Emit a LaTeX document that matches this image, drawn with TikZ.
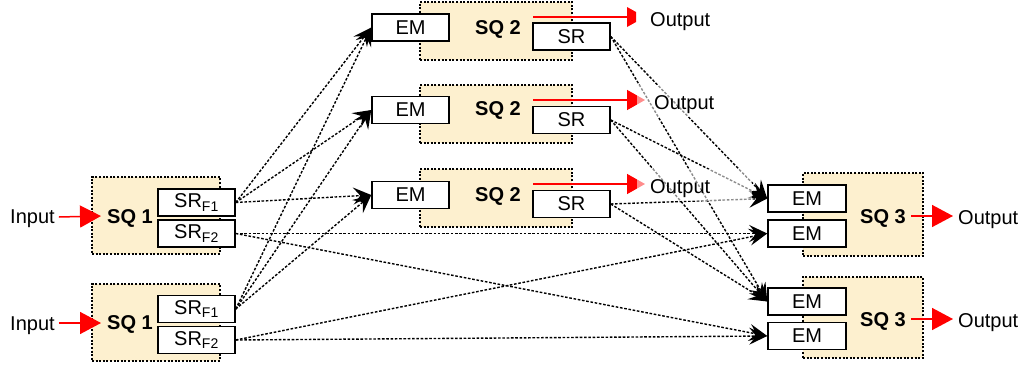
\documentclass[tikz,border=0pt]{standalone}
\usepackage{fontspec}
\setmainfont{Liberation Sans}
\usetikzlibrary{arrows.meta}
\definecolor{sqfill}{RGB}{253,240,207}
\begin{document}
\begin{tikzpicture}[x=1pt,y=-1pt,
  font=\fontsize{20}{23}\selectfont,
  sqbox/.style={draw, fill=sqfill, line width=1.3pt, dash pattern=on 2pt off 1.6pt, inner sep=0pt},
  unit/.style={draw, fill=white, line width=1.5pt, minimum width=77pt, minimum height=27pt, inner sep=0pt},
  sqlabel/.style={anchor=base west, inner sep=0pt, font=\fontsize{20}{23}\selectfont\bfseries},
  txt/.style={anchor=base west, inner sep=0pt},
  link/.style={line width=1.4pt, dash pattern=on 2.6pt off 1.7pt, -{Stealth[length=18pt,width=17pt,inset=7pt]}},
  feed/.style={red, line width=1.5pt},
  bigfeed/.style={feed, -{Triangle[length=21pt,width=22pt]}},
  midfeed/.style={feed, -{Triangle[length=18pt,width=20pt]}},
  veil/.style={fill=white, fill opacity=0.55},
]
\useasboundingbox (0,0) rectangle (1022,367);

% ---------- stage 1 ----------
\node (q1a) [sqbox, minimum width=128pt, minimum height=77pt] at (156,215.5) {};
\node (q1b) [sqbox, minimum width=128pt, minimum height=77pt] at (156,322.5) {};
\node (l1a) [sqlabel] at (107,223) {SQ 1};
\node (l1b) [sqlabel] at (107,329) {SQ 1};
\node (f1a) [unit] at (196.5,202.5) {SR\textsubscript{F1}};
\node (f2a) [unit] at (196.5,233.5) {SR\textsubscript{F2}};
\node (f1b) [unit] at (196.5,309) {SR\textsubscript{F1}};
\node (f2b) [unit] at (196.5,340) {SR\textsubscript{F2}};
\node (in1) [txt] at (10,223) {Input};
\node (in2) [txt] at (10,330) {Input};
\coordinate (in1t) at (101,216);
\coordinate (in2t) at (101,323);
\draw[bigfeed] ([xshift=4pt,yshift=-1pt]in1.base east |- in1t) -- (in1t);
\draw[bigfeed] ([xshift=4pt]in2.base east |- in2t) -- (in2t);

% ---------- stage 2 ----------
\node (q2a) [sqbox, minimum width=152pt, minimum height=58pt] at (496,31) {};
\node (q2b) [sqbox, minimum width=152pt, minimum height=58pt] at (496,114) {};
\node (q2c) [sqbox, minimum width=152pt, minimum height=58pt] at (496,198) {};
\node (l2a) [sqlabel] at (475,34) {SQ 2};
\node (l2b) [sqlabel] at (475,115) {SQ 2};
\node (l2c) [sqlabel] at (475,201) {SQ 2};
\node (em2a) [unit] at (410.5,27.5) {EM};
\node (em2b) [unit] at (410.5,110) {EM};
\node (em2c) [unit] at (410.5,195) {EM};
\node (sr2a) [unit] at (571.5,36.5) {SR};
\node (sr2b) [unit] at (571.5,120) {SR};
\node (sr2c) [unit] at (571.5,204) {SR};

% ---------- stage 3 ----------
\node (q3a) [sqbox, minimum width=120pt, minimum height=83pt] at (863,214.5) {};
\node (q3b) [sqbox, minimum width=120pt, minimum height=81pt] at (863,317.5) {};
\node (l3a) [sqlabel] at (860,223) {SQ 3};
\node (l3b) [sqlabel] at (860,326) {SQ 3};
\node (em3a) [unit, minimum width=78pt] at (807,198.5) {EM};
\node (em3b) [unit, minimum width=78pt] at (807,233.5) {EM};
\node (em3c) [unit, minimum width=78pt] at (807,301.5) {EM};
\node (em3d) [unit, minimum width=78pt] at (807,336) {EM};
\node (o3a) [txt] at (958,224) {Output};
\node (o3b) [txt] at (958,327) {Output};
\coordinate (s3a) at (911,216);
\coordinate (s3b) at (911,319);
\draw[bigfeed] (s3a) -- ([xshift=-5pt]o3a.base west |- s3a);
\draw[bigfeed] (s3b) -- ([xshift=-5pt]o3b.base west |- s3b);

% ---------- dotted links ----------
\foreach \s in {f1a,f1b}
  \foreach \t in {em2a,em2b,em2c}
    \draw[link] (\s.east) -- (\t.west);
\foreach \s in {f2a,f2b}
  \foreach \t in {em3b,em3d}
    \draw[link] (\s.east) -- (\t.west);
\foreach \s in {sr2a,sr2b,sr2c}
  \foreach \t in {em3a,em3c}
    \draw[link] (\s.east) -- (\t.west);

% ---------- stage 2 outputs ----------
\coordinate (s2a) at (533,17);
\coordinate (s2b) at (533,100);
\coordinate (s2c) at (533,184);
\coordinate (t2a) at (627,17);
\draw[feed] (s2a) -- (t2a);
\fill[red] (627,7) -- (636,12) -- (636,22) -- (627,27) -- cycle;
\coordinate (t2b) at (645,100);
\coordinate (t2c) at (645,184);
\draw[midfeed] (s2b) -- (t2b);
\draw[midfeed] (s2c) -- (t2c);
\fill[veil] (637,85) rectangle (752,117);
\fill[veil] (637,169) rectangle (752,201);
\node (o2a) [txt] at (650,26) {Output};
\node (o2b) [txt] at (654,109) {Output};
\node (o2c) [txt] at (650,193) {Output};
\end{tikzpicture}
\end{document}
